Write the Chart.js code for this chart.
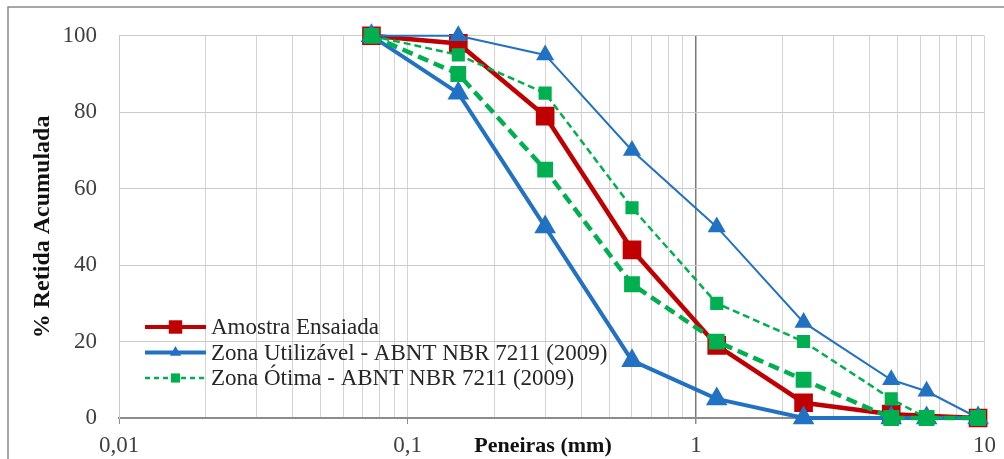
<!DOCTYPE html>
<html>
<head>
<title>Curva Granulométrica</title>
<script src="https://cdn.jsdelivr.net/npm/chart.js"></script>
<style>
    body { margin: 0; background: #fff; }
    #wrap { position: relative; width: 1004px; height: 459px; overflow: hidden; }
    canvas { display: block; }
</style>
</head>
<body>
<div id="wrap"><canvas id="granChart" width="1004" height="459"></canvas></div>
<script>
// aberturas das peneiras (mm) e % retida acumulada
const sieves = [0.075, 0.15, 0.3, 0.6, 1.18, 2.36, 4.75, 6.3, 9.5];
const amostra = [100, 98, 79, 44, 19, 4, 1, null, 0];
const utilInferior = [100, 85, 50, 15, 5, 0, 0, 0, 0];
const utilSuperior = [100, 100, 95, 70, 50, 25, 10, 7, 0];
const otimaInferior = [100, 90, 65, 35, 20, 10, 0, 0, 0];
const otimaSuperior = [100, 95, 85, 55, 30, 20, 5, 0, 0];

const xMajor = [0.01, 0.1, 1, 10];
const xTickLabels = ['0,01', '0,1', '1', '10'];
const yTicks = [0, 20, 40, 60, 80, 100];
const xTitle = 'Peneiras (mm)';

const serif = "'Liberation Serif', 'Times New Roman', serif";
const RED = '#C00000', BLUE = '#2272C3', GREEN = '#00B050';

// linhas de grade: 1..9 em cada década
const xGrid = [];
xMajor.slice(0, -1).forEach(d => { for (let k = 1; k <= 9; k++) xGrid.push(+(k * d).toPrecision(3)); });
xGrid.push(xMajor[xMajor.length - 1]);

const pts = arr => sieves.map((x, i) => ({ x: x, y: arr[i] }));
const isMajor = v => xMajor.findIndex(m => Math.abs(v - m) / m < 1e-6);

function marker(ctx, style, x, y, r, color) {
    ctx.setLineDash([]);
    ctx.fillStyle = color;
    ctx.beginPath();
    if (style === 'triangle') {
        ctx.moveTo(x, y - r);
        ctx.lineTo(x + r * 0.866, y + r / 2);
        ctx.lineTo(x - r * 0.866, y + r / 2);
        ctx.closePath();
    } else {
        ctx.rect(x - r * 0.707, y - r * 0.707, r * 1.414, r * 1.414);
    }
    ctx.fill();
}

const frameAndLegend = {
    id: 'frameAndLegend',
    beforeDraw(chart) {
        const ctx = chart.ctx;
        ctx.save();
        ctx.strokeStyle = '#8a8a8a';
        ctx.lineWidth = 1.5;
        ctx.strokeRect(8, 7, 1000, 470);
        ctx.restore();
    },
    afterDatasetsDraw(chart) {
        const ctx = chart.ctx;
        let y = 327;
        ctx.save();
        chart.data.datasets.forEach(ds => {
            if (!ds.legendText) return;
            ctx.strokeStyle = ds.borderColor;
            ctx.lineWidth = ds.legendWidth;
            ctx.setLineDash(ds.legendDash || []);
            ctx.beginPath();
            ctx.moveTo(145, y);
            ctx.lineTo(206, y);
            ctx.stroke();
            marker(ctx, ds.pointStyle, 175.5, y, ds.legendRadius, ds.borderColor);
            ctx.fillStyle = '#262626';
            ctx.font = '23px ' + serif;
            ctx.textBaseline = 'middle';
            ctx.fillText(ds.legendText, 211, y + 1);
            y += 25.5;
        });
        // título do eixo x, na mesma linha dos rótulos
        ctx.fillStyle = '#111';
        ctx.font = 'bold 22px ' + serif;
        ctx.textAlign = 'center';
        ctx.fillText(xTitle, 543, 446);
        ctx.restore();
    }
};

new Chart(document.getElementById('granChart'), {
    type: 'line',
    data: {
        datasets: [
            {
                label: 'Amostra Ensaiada', legendText: 'Amostra Ensaiada',
                data: pts(amostra), order: 3,
                borderColor: RED, backgroundColor: RED, borderWidth: 4.5,
                pointStyle: 'rect', pointRadius: 10, legendRadius: 9.5, legendWidth: 4
            },
            {
                label: 'Zona Utilizável (inferior)', legendText: 'Zona Utilizável - ABNT NBR 7211 (2009)',
                data: pts(utilInferior), order: 2,
                borderColor: BLUE, backgroundColor: BLUE, borderWidth: 4,
                pointStyle: 'triangle', pointRadius: 8.5, legendRadius: 6.5, legendWidth: 4
            },
            {
                label: 'Zona Utilizável (superior)',
                data: pts(utilSuperior), order: 2,
                borderColor: BLUE, backgroundColor: BLUE, borderWidth: 2,
                pointStyle: 'triangle', pointRadius: 8.5
            },
            {
                label: 'Zona Ótima (inferior)',
                data: pts(otimaInferior), order: 1,
                borderColor: GREEN, backgroundColor: GREEN, borderWidth: 4.5, borderDash: [11, 6],
                pointStyle: 'rect', pointRadius: 8
            },
            {
                label: 'Zona Ótima (superior)', legendText: 'Zona Ótima - ABNT NBR 7211 (2009)',
                data: pts(otimaSuperior), order: 1,
                borderColor: GREEN, backgroundColor: GREEN, borderWidth: 2.5, borderDash: [7, 4],
                pointStyle: 'rect', pointRadius: 7.5, legendRadius: 6.5, legendWidth: 2.5, legendDash: [5, 4]
            }
        ]
    },
    options: {
        responsive: false,
        animation: false,
        devicePixelRatio: 1,
        spanGaps: true,
        layout: { padding: { left: 0, top: 24, right: 18, bottom: 0 } },
        elements: {
            line: { tension: 0 },
            point: { borderWidth: 1, hoverRadius: 8 }
        },
        datasets: { line: { clip: false } },
        plugins: {
            legend: { display: false },
            tooltip: { enabled: false }
        },
        scales: {
            x: {
                type: 'logarithmic',
                min: 0.01,
                max: 10,
                afterBuildTicks(scale) { scale.ticks = xGrid.map(v => ({ value: v })); },
                afterFit(scale) { scale.height = 41; },
                ticks: {
                    autoSkip: false,
                    maxRotation: 0,
                    padding: 8,
                    color: '#404040',
                    font: { family: serif, size: 23 },
                    callback(value) {
                        const i = isMajor(value);
                        return i >= 0 ? xTickLabels[i] : '';
                    }
                },
                grid: {
                    color: c => (c.tick && isMajor(c.tick.value) === 2) ? '#7a7a7a' : '#d4d4d4',
                    lineWidth: c => (c.tick && isMajor(c.tick.value) === 2) ? 1.5 : 1,
                    tickLength: 6,
                    tickColor: c => (c.tick && isMajor(c.tick.value) >= 0) ? '#8c8c8c' : 'rgba(0,0,0,0)'
                },
                border: { color: '#8c8c8c', width: 2 }
            },
            y: {
                min: 0,
                max: 100,
                afterBuildTicks(scale) { scale.ticks = yTicks.map(v => ({ value: v })); },
                afterFit(scale) { scale.width = 119; },
                ticks: {
                    padding: 22,
                    color: '#404040',
                    font: { family: serif, size: 23 }
                },
                grid: {
                    drawTicks: false,
                    color: c => (c.tick && c.tick.value === 0) ? '#8c8c8c' : '#cacaca'
                },
                border: { color: '#c8c8c8' },
                title: {
                    display: true,
                    text: '% Retida Acumulada',
                    color: '#111',
                    font: { family: serif, size: 24, weight: 'bold' },
                    padding: { top: 28, bottom: 0 }
                }
            }
        }
    },
    plugins: [frameAndLegend]
});
</script>
</body>
</html>
